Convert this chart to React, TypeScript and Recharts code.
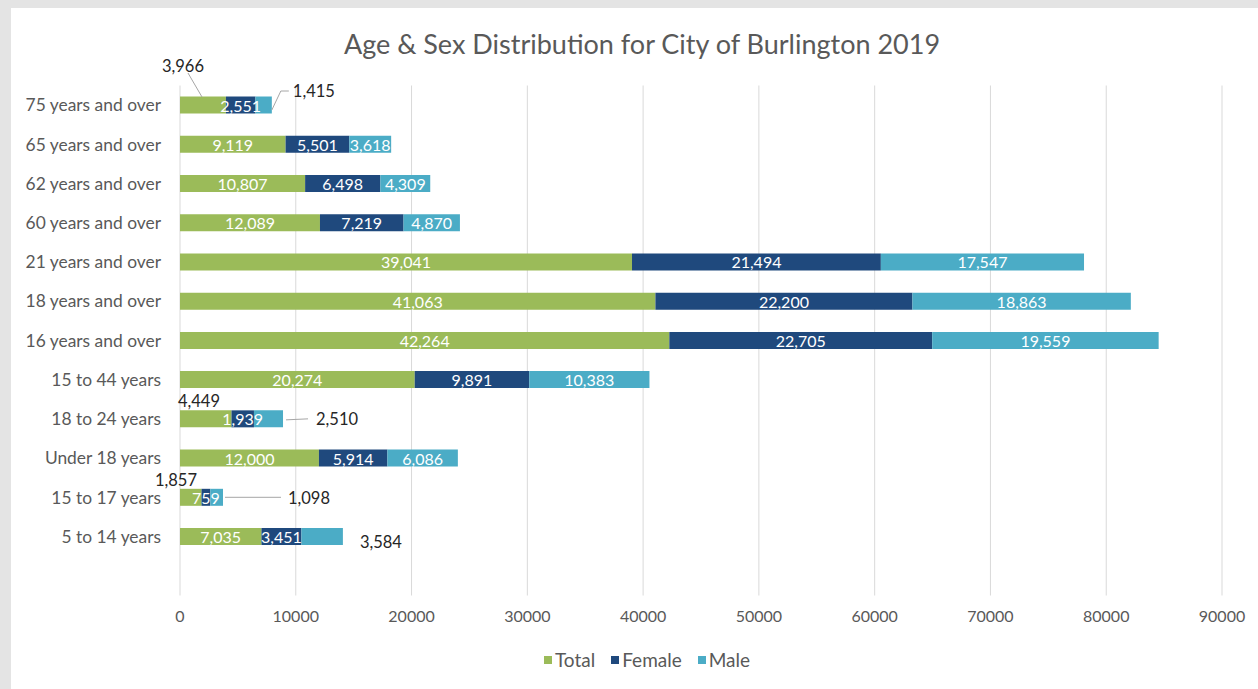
import React from "react";
import { BarChart, Bar, XAxis, YAxis, CartesianGrid, Legend, LabelList } from "recharts";

const FONT = "Lato, 'Open Sans', sans-serif";

const categories = [
  "75 years and over",
  "65 years and over",
  "62 years and over",
  "60 years and over",
  "21 years and over",
  "18 years and over",
  "16 years and over",
  "15 to 44 years",
  "18 to 24 years",
  "Under 18 years",
  "15 to 17 years",
  "5 to 14 years",
  "",
];
const totals = [3966, 9119, 10807, 12089, 39041, 41063, 42264, 20274, 4449, 12000, 1857, 7035, null];
const females = [2551, 5501, 6498, 7219, 21494, 22200, 22705, 9891, 1939, 5914, 759, 3451, null];
const males = [1415, 3618, 4309, 4870, 17547, 18863, 19559, 10383, 2510, 6086, 1098, 3584, null];
const xTicks = [0, 10000, 20000, 30000, 40000, 50000, 60000, 70000, 80000, 90000];
const seriesOrder = ["Total", "Female", "Male"];

const data = categories.map((name, i) => ({
  name,
  Total: totals[i],
  Female: females[i],
  Male: males[i],
}));

const COLORS: Record<string, string> = { Total: "#9bbb59", Female: "#1f497d", Male: "#4bacc6" };

// labels that Excel moved outside the bars, offsets relative to the segment
type Callout = { from: "start" | "end"; dx: number; dy: number; anchor: "start" | "middle"; line?: number[][] };
const callouts: Record<string, Callout> = {
  "75 years and over|Total": { from: "start", dx: 3, dy: -39, anchor: "middle", line: [[8, -32], [22, -8]] },
  "75 years and over|Male": { from: "end", dx: 21, dy: -14, anchor: "start", line: [[0, 5], [9, -14], [17, -14]] },
  "18 to 24 years|Total": { from: "start", dx: 19, dy: -18, anchor: "middle" },
  "18 to 24 years|Male": { from: "end", dx: 33, dy: 0, anchor: "start", line: [[3, 1], [25, 0]] },
  "15 to 17 years|Total": { from: "start", dx: -4, dy: -17, anchor: "middle" },
  "15 to 17 years|Male": { from: "end", dx: 65, dy: 1, anchor: "start", line: [[2, 0], [58, 0]] },
  "5 to 14 years|Male": { from: "end", dx: 17, dy: 5, anchor: "start" },
};

const makeLabel = (series: string) => (props: any) => {
  const { value, index } = props;
  if (value == null || !value) return null;
  const x = Number(props.x);
  const y = Number(props.y);
  const width = Number(props.width);
  const height = Number(props.height);
  const text = Number(value).toLocaleString("en-US");
  const cy = y + height / 2;
  const c = callouts[`${categories[index]}|${series}`];
  if (!c) {
    return (
      <text x={x + width / 2} y={cy} textAnchor="middle" dominantBaseline="central" fill="#ffffff" fontSize={16} fontFamily={FONT}>
        {text}
      </text>
    );
  }
  const ox = c.from === "end" ? x + width : x;
  return (
    <g>
      {c.line && (
        <polyline
          points={c.line.map(([a, b]) => `${ox + a},${cy + b}`).join(" ")}
          fill="none"
          stroke="#a6a6a6"
          strokeWidth={1}
        />
      )}
      <text x={ox + c.dx} y={cy + c.dy} textAnchor={c.anchor} dominantBaseline="central" fill="#262626" fontSize={16.5} fontFamily={FONT}>
        {text}
      </text>
    </g>
  );
};

const renderLegend = (props: any) => {
  const items = [...(props.payload || [])].sort(
    (a: any, b: any) => seriesOrder.indexOf(a.value) - seriesOrder.indexOf(b.value)
  );
  return (
    <div style={{ display: "flex", justifyContent: "center", alignItems: "center", fontFamily: FONT, fontSize: 19, color: "#595959" }}>
      {items.map((it: any) => (
        <span key={it.value} style={{ display: "inline-flex", alignItems: "center", marginRight: 16 }}>
          <span style={{ width: 8, height: 8, background: COLORS[it.value], marginRight: 3, display: "inline-block" }} />
          {it.value}
        </span>
      ))}
    </div>
  );
};

export default function App() {
  return (
    <div style={{ position: "absolute", left: 0, top: 0, width: 1258, height: 689, background: "#e4e4e4", fontFamily: FONT }}>
      <div style={{ position: "absolute", left: 11, top: 8, right: 0, bottom: 0, background: "#ffffff" }} />
      <div
        style={{
          position: "absolute",
          left: 0,
          width: 1284,
          top: 27,
          textAlign: "center",
          fontSize: 27,
          color: "#595959",
          lineHeight: "34px",
        }}
      >
        Age &amp; Sex Distribution for City of Burlington 2019
      </div>
      <div style={{ position: "absolute", left: 0, top: 0 }}>
        <BarChart
          width={1258}
          height={689}
          data={data}
          layout="vertical"
          barSize={17}
          margin={{ top: 85.5, right: 36, bottom: 63.5, left: 0 }}
        >
          <CartesianGrid horizontal={false} stroke="#d9d9d9" />
          <XAxis
            type="number"
            domain={[0, 90000]}
            ticks={xTicks}
            interval={0}
            axisLine={false}
            tickLine={false}
            tickMargin={9}
            height={30}
            tick={{ fill: "#595959", fontSize: 16, fontFamily: FONT }}
          />
          <YAxis
            type="category"
            dataKey="name"
            width={180}
            axisLine={false}
            tickLine={false}
            tickMargin={13}
            interval={0}
            tick={{ fill: "#595959", fontSize: 17.4, fontFamily: FONT }}
          />
          <Legend
            layout="horizontal"
            verticalAlign="middle"
            align="center"
            wrapperStyle={{ top: 648, left: 0, width: 1310 }}
            content={renderLegend}
          />
          <Bar dataKey="Total" stackId="a" fill={COLORS.Total} isAnimationActive={false}>
            <LabelList dataKey="Total" content={makeLabel("Total")} />
          </Bar>
          <Bar dataKey="Female" stackId="a" fill={COLORS.Female} isAnimationActive={false}>
            <LabelList dataKey="Female" content={makeLabel("Female")} />
          </Bar>
          <Bar dataKey="Male" stackId="a" fill={COLORS.Male} isAnimationActive={false}>
            <LabelList dataKey="Male" content={makeLabel("Male")} />
          </Bar>
        </BarChart>
      </div>
    </div>
  );
}
